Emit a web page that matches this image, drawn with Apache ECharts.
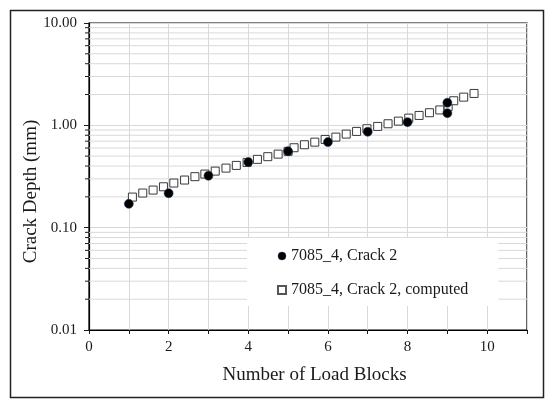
<!DOCTYPE html>
<html>
<head>
<meta charset="utf-8">
<script src="https://cdn.jsdelivr.net/npm/echarts@6/dist/echarts.min.js"></script>
<style>
  html, body { margin: 0; padding: 0; background: #fff; }
  #chart { width: 550px; height: 403px; }
</style>
</head>
<body>
<div id="chart"></div>
<script>
// measured crack depth (mm) per load block
const measuredBlocks = [1, 2, 3, 4, 5, 6, 7, 8, 9, 9]
const measuredDepth = [0.171, 0.217, 0.322, 0.437, 0.558, 0.686, 0.866, 1.074, 1.316, 1.663]

// computed crack growth curve
const computedBlocks = [1.09, 1.35, 1.61, 1.87, 2.13, 2.40, 2.66, 2.91, 3.17, 3.44, 3.70, 3.97,
  4.23, 4.49, 4.75, 5.00, 5.15, 5.41, 5.67, 5.93, 6.20, 6.46, 6.72, 6.98, 7.25, 7.51, 7.77,
  8.03, 8.29, 8.55, 8.81, 9.02, 9.16, 9.41, 9.67]
const computedDepth = [0.199, 0.218, 0.233, 0.251, 0.273, 0.292, 0.315, 0.334, 0.357, 0.382, 0.406, 0.434,
  0.465, 0.494, 0.523, 0.557, 0.604, 0.646, 0.685, 0.728, 0.767, 0.821, 0.872, 0.926, 0.976, 1.036, 1.099,
  1.176, 1.249, 1.328, 1.414, 1.530, 1.739, 1.886, 2.049]

const xLabels = [0, 2, 4, 6, 8, 10]
const minorTicks = [0.02, 0.03, 0.04, 0.05, 0.06, 0.07, 0.08, 0.09,
  0.2, 0.3, 0.4, 0.5, 0.6, 0.7, 0.8, 0.9,
  2, 3, 4, 5, 6, 7, 8, 9]

const X_MIN = 0
const X_MAX = 11
const FONT = "'Liberation Serif', 'Times New Roman', serif"
const INK = '#1a1a1a'
const GRID_GRAY = '#d9d9d9'

const nameMeasured = '7085_4, Crack 2'
const nameComputed = '7085_4, Crack 2, computed'

function zip(a, b) {
  return a.map((v, i) => [v, b[i]])
}

// minor log grid lines + short outward ticks on the y axis
function renderMinor(params, api) {
  const v = api.value(1)
  const left = api.coord([X_MIN, v])
  const right = api.coord([X_MAX, v])
  return {
    type: 'group',
    children: [
      {
        type: 'line',
        shape: { x1: left[0], y1: left[1], x2: right[0], y2: right[1] },
        style: { stroke: GRID_GRAY, lineWidth: 1 }
      },
      {
        type: 'line',
        shape: { x1: left[0] - 4, y1: left[1], x2: left[0], y2: left[1] },
        style: { stroke: INK, lineWidth: 1 }
      }
    ]
  }
}

const chart = echarts.init(document.getElementById('chart'))
chart.setOption({
  backgroundColor: '#fff',
  animation: false,
  textStyle: { fontFamily: FONT, color: INK },
  graphic: [
    {
      type: 'rect',
      left: 8,
      top: 8,
      shape: { width: 533, height: 387 },
      style: { fill: 'none', stroke: '#222', lineWidth: 1.5 },
      silent: true,
      z: 100
    }
  ],
  grid: {
    left: 89,
    top: 23,
    right: 23,
    bottom: 73,
    show: true,
    borderColor: '#000',
    borderWidth: 1.2,
    backgroundColor: 'transparent'
  },
  legend: {
    data: [
      { name: nameMeasured, icon: 'circle', itemStyle: { borderWidth: 0.4 } },
      { name: nameComputed, icon: 'rect', itemStyle: { borderColor: '#555' } }
    ],
    orient: 'vertical',
    left: 247,
    top: 238,
    backgroundColor: '#fff',
    padding: [10, 30, 8, 30],
    itemGap: 18,
    itemWidth: 8,
    itemHeight: 8,
    textStyle: { fontFamily: FONT, fontSize: 16, color: INK },
    selectedMode: false
  },
  xAxis: {
    type: 'value',
    min: X_MIN,
    max: X_MAX,
    interval: 1,
    name: 'Number of Load Blocks',
    nameLocation: 'middle',
    nameGap: 36,
    nameMoveOverlap: false,
    nameTextStyle: { fontFamily: FONT, fontSize: 19, color: INK, padding: [0, 0, 0, 13] },
    axisLine: { show: true, lineStyle: { color: '#000', width: 1.2 } },
    axisTick: { show: true, inside: false, length: 4, lineStyle: { color: INK } },
    axisLabel: {
      fontFamily: FONT,
      fontSize: 15,
      color: INK,
      margin: 10,
      formatter: (v) => (xLabels.includes(v) ? String(v) : '')
    },
    splitLine: { show: true, lineStyle: { color: GRID_GRAY, width: 1 } }
  },
  yAxis: {
    type: 'log',
    logBase: 10,
    min: 0.01,
    max: 10,
    name: 'Crack Depth (mm)',
    nameLocation: 'middle',
    nameGap: 48,
    nameMoveOverlap: false,
    nameTextStyle: { fontFamily: FONT, fontSize: 19, color: INK, padding: [0, 30, 0, 0] },
    axisLine: { show: true, lineStyle: { color: '#000', width: 1.2 } },
    axisTick: { show: true, inside: false, length: 5, lineStyle: { color: INK } },
    axisLabel: {
      fontFamily: FONT,
      fontSize: 15,
      color: INK,
      margin: 12,
      formatter: (v) => Number(v).toFixed(2)
    },
    splitLine: { show: true, lineStyle: { color: GRID_GRAY, width: 1 } }
  },
  series: [
    {
      type: 'custom',
      name: 'minor',
      silent: true,
      z: 1,
      renderItem: renderMinor,
      data: minorTicks.map((v) => [X_MIN, v])
    },
    {
      type: 'scatter',
      name: nameComputed,
      symbol: 'rect',
      symbolSize: 8,
      z: 3,
      itemStyle: { color: '#fff', borderColor: '#3a3a3a', borderWidth: 1, opacity: 1 },
      data: zip(computedBlocks, computedDepth)
    },
    {
      type: 'scatter',
      name: nameMeasured,
      symbol: 'circle',
      symbolSize: 9,
      z: 4,
      itemStyle: { color: '#000', borderColor: '#1f3b63', borderWidth: 0.6, opacity: 1 },
      data: zip(measuredBlocks, measuredDepth)
    }
  ]
})
</script>
</body>
</html>
